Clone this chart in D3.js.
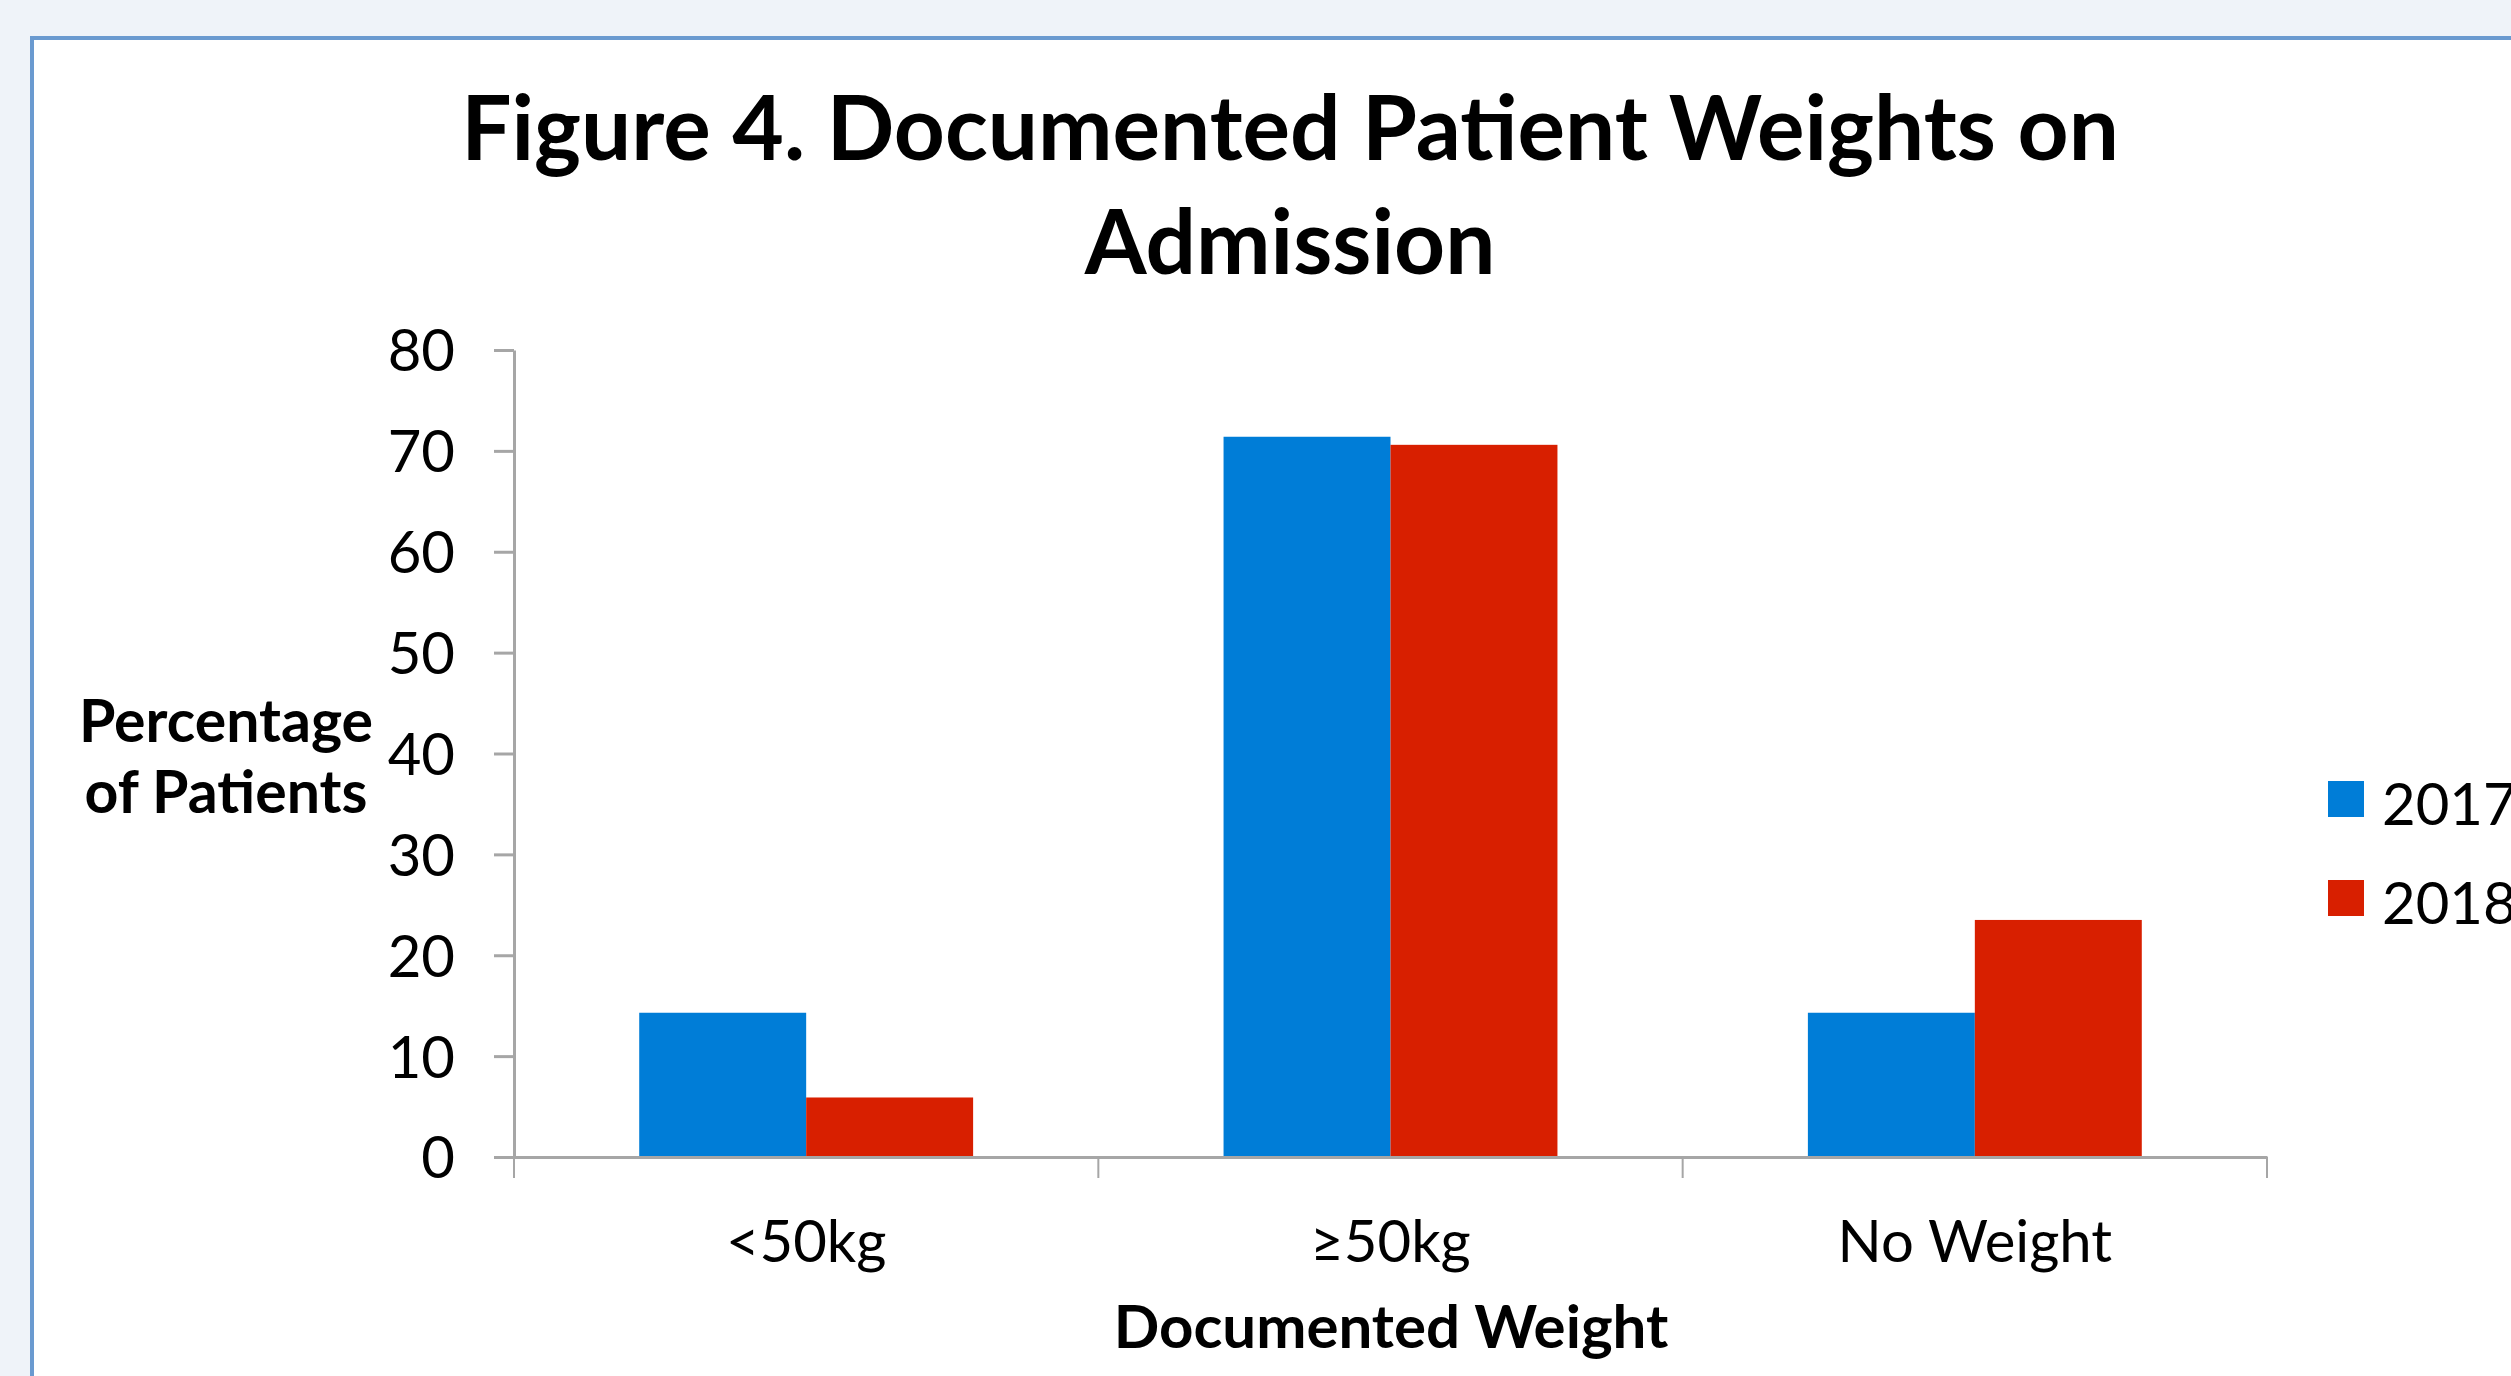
<!DOCTYPE html>
<html>
<head>
<meta charset="utf-8">
<script src="https://cdn.jsdelivr.net/npm/d3@7"></script>
<style>
  html, body { margin: 0; padding: 0; background: #eff3f9; overflow: hidden; }
  svg { display: block; }
  text { font-family: Lato, "Open Sans", sans-serif; fill: #000; }
</style>
</head>
<body>
<svg id="chart" width="2511" height="1376"></svg>
<script>
// ---- data ----
const categories = ["<50kg", "\u226550kg", "No Weight"];
const seriesNames = ["2017", "2018"];
const values2017 = [14.3, 71.4, 14.3];
const values2018 = [5.9, 70.6, 23.5];
const yTickValues = [0, 10, 20, 30, 40, 50, 60, 70, 80];
const titleLines = ["Figure 4. Documented Patient Weights on", "Admission"];
const yTitleLines = ["Percentage", "of Patients"];
const xTitle = "Documented Weight";
const colors = ["#007dd7", "#d81f00"];

const svg = d3.select("#chart");
const W = 2511, H = 1376;

// panel
svg.append("rect").attr("x", 0).attr("y", 0).attr("width", W).attr("height", H).attr("fill", "#eff3f9");
svg.append("rect").attr("x", 32).attr("y", 38).attr("width", W + 50).attr("height", H + 50)
  .attr("fill", "#ffffff").attr("stroke", "#6a9ad0").attr("stroke-width", 4);

// scales
const x0 = d3.scaleBand().domain(categories).range([514, 2267]).paddingInner(0).paddingOuter(0);
const x1 = d3.scaleBand().domain(seriesNames).range([0, x0.bandwidth()]).paddingInner(0).paddingOuter(0.75);
const y = d3.scaleLinear().domain([0, 80]).range([1157, 350]);

const rows = categories.map((c, i) => ({ cat: c, vals: [values2017[i], values2018[i]] }));

// bars
const g = svg.append("g");
g.selectAll("g.grp").data(rows).join("g").attr("class", "grp")
  .attr("transform", d => `translate(${x0(d.cat)},0)`)
  .selectAll("rect").data(d => d.vals.map((v, j) => ({ s: seriesNames[j], v, j })))
  .join("rect")
  .attr("x", d => x1(d.s))
  .attr("width", x1.bandwidth())
  .attr("y", d => y(d.v))
  .attr("height", d => y(0) - y(d.v))
  .attr("fill", d => colors[d.j]);

// y axis
const yAxis = svg.append("g").attr("transform", "translate(514,0)")
  .call(d3.axisLeft(y).tickValues(yTickValues).tickSize(20).tickPadding(39).tickSizeOuter(0));
yAxis.select(".domain").attr("stroke", "#a6a6a6").attr("stroke-width", 3);
yAxis.selectAll(".tick line").attr("stroke", "#a6a6a6").attr("stroke-width", 3);
yAxis.selectAll(".tick text").attr("font-size", 58).attr("font-family", "Lato").attr("dy", "0.36em");

// x axis
const xAxis = svg.append("g").attr("transform", `translate(0,${y(0)})`)
  .call(d3.axisBottom(x0).tickSize(0).tickPadding(0).tickSizeOuter(0));
xAxis.select(".domain").attr("stroke", "#a6a6a6").attr("stroke-width", 3);
xAxis.selectAll(".tick text").attr("font-size", 58).attr("font-family", "Lato")
  .attr("y", 105).attr("dy", 0);
// category boundary ticks
const bounds = categories.map(c => x0(c)).concat([x0.range()[1]]);
xAxis.selectAll("line.bound").data(bounds).join("line").attr("class", "bound")
  .attr("x1", d => d).attr("x2", d => d).attr("y1", 0).attr("y2", 21)
  .attr("stroke", "#a6a6a6").attr("stroke-width", 2);

// title
const title = svg.append("text").attr("text-anchor", "middle").attr("font-weight", 700).attr("font-size", 89);
title.selectAll("tspan").data(titleLines).join("tspan")
  .attr("x", 1290).attr("y", (d, i) => 160 + i * 114).text(d => d);

// y title
const yt = svg.append("text").attr("text-anchor", "middle").attr("font-weight", 700).attr("font-size", 59);
yt.selectAll("tspan").data(yTitleLines).join("tspan")
  .attr("x", 226).attr("y", (d, i) => 742 + i * 71).text(d => d);

// x title
svg.append("text").attr("text-anchor", "middle").attr("font-weight", 700).attr("font-size", 60)
  .attr("x", 1391).attr("y", 1348).text(xTitle);

// legend
const leg = svg.append("g");
seriesNames.forEach((s, i) => {
  leg.append("rect").attr("x", 2328).attr("y", 781 + i * 99).attr("width", 36).attr("height", 36).attr("fill", colors[i]);
  leg.append("text").attr("x", 2382).attr("y", 825 + i * 99).attr("font-size", 58).text(s);
});
</script>
</body>
</html>
